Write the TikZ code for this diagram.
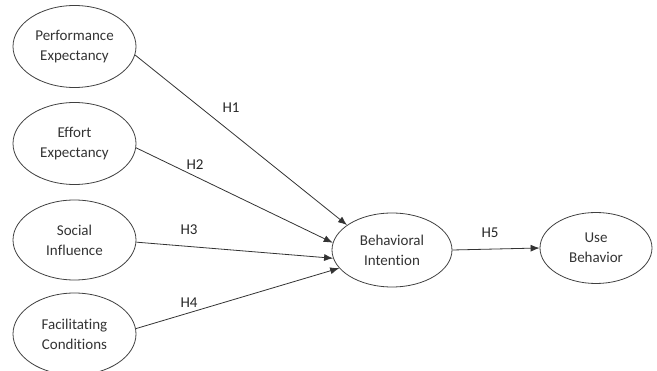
\documentclass[tikz,border=0pt]{standalone}
\usepackage{fontspec}
\setmainfont{Carlito}[Ligatures=NoCommon]
\usetikzlibrary{shapes.geometric,arrows.meta}

\begin{document}
\begin{tikzpicture}[x=1pt,y=-1pt,
  construct/.style={draw=black!75,line width=0.8pt,ellipse,inner sep=0pt,
    minimum width=123pt,minimum height=82pt,align=center,text=black!80,
    font=\fontsize{15}{20}\selectfont},
  path/.style={draw=black!80,line width=0.8pt,-{Latex[length=9pt,width=7pt]}},
  hyp/.style={text=black!85,font=\fontsize{15}{18}\selectfont}]
\useasboundingbox (0,0) rectangle (657,371);
\node[construct] (pe) at (74.5,46.5) {Performance\\Expectancy};
\node[construct] (ee) at (74.5,143.5) {Effort\\Expectancy};
\node[construct,minimum height=80pt] (si) at (74.5,240) {Social\\Influence};
\node[construct] (fc) at (74.5,334) {Facilitating\\Conditions};
\node[construct,minimum width=120pt,minimum height=74pt] (bi) at (392,250) {Behavioral\\Intention};
\node[construct,minimum width=112pt,minimum height=71pt] (ub) at (596,248) {Use\\Behavior};
\draw[path] (pe.-8) -- (bi.151);
\draw[path] (ee.-4) -- (bi.173);
\draw[path] (si.-2) -- (bi.188);
\draw[path] (fc.5) -- (bi.199);
\draw[path] (bi.east) -- (ub.west);
\node[hyp] (h1) at (231,108) {H1};
\node[hyp] (h2) at (195,165) {H2};
\node[hyp] (h3) at (189,230) {H3};
\node[hyp] (h4) at (189,303) {H4};
\node[hyp] (h5) at (490,233) {H5};
\end{tikzpicture}
\end{document}
